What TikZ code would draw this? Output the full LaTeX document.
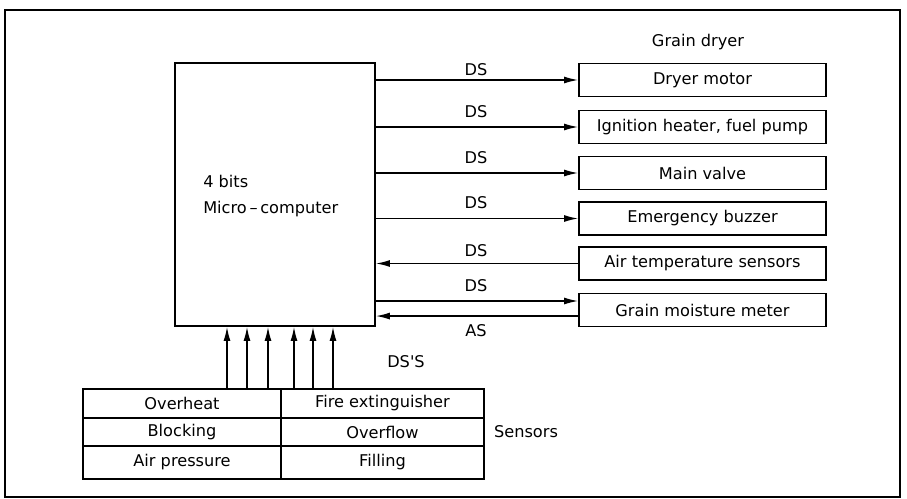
\documentclass[tikz,border=0pt]{standalone}
\usepackage{fontspec}
\setmainfont{DejaVu Sans}
\newfontfamily\plainsans{DejaVu Sans}
\usetikzlibrary{arrows.meta, positioning}
\newcommand{\lbl}{\fontsize{11.5}{18.4}\selectfont}
\tikzset{
  proc/.style={draw, line width=1.2pt, inner sep=0pt},
  unit/.style={draw, line width=1.2pt, inner sep=0pt, minimum width=6.175cm, minimum height=8.25mm, font=\lbl},
  cell/.style={draw, line width=0.9pt, inner sep=0pt, minimum height=7.25mm, font=\lbl},
  sig/.style={-{Latex[length=10pt,width=5pt]}, line width=1pt},
  tag/.style={font=\lbl, inner sep=0pt},
}

\begin{document}
\begin{tikzpicture}[x=0.025cm, y=-0.025cm]
    \useasboundingbox (0,0) rectangle (907,499);
    \draw[line width=1.8pt] (5,10) rectangle (900,497);
    % controller
    \node[proc, minimum width=5cm, minimum height=6.575cm] (mc) at (275,194.5) {};
    \node[tag, anchor=west, align=left] (mcl) at (203,196) {4 bits\\Micro\,--\,computer};
    % grain dryer units
    \node[tag] (gd) at (698,42) {Grain dryer};
    \node[unit] (dm) at (702.5,80)    {Dryer motor};
    \node[unit] (ig) at (702.5,127)   {Ignition heater, fuel pump};
    \node[unit] (mv) at (702.5,173)   {Main valve};
    \node[unit] (eb) at (702.5,218.5) {Emergency buzzer};
    \node[unit] (at) at (702.5,263.5) {Air temperature sensors};
    \node[unit] (gm) at (702.5,310)   {Grain moisture meter};
    \coordinate (gmin)  at ([yshift=6.4pt]gm.west);
    \coordinate (gmout) at ([yshift=-4.3pt]gm.west);
    \foreach \n in {dm,ig,mv,eb}
      \draw[sig] (mc.east |- \n.west) -- (\n.west);
    \draw[sig] (at.west) -- (mc.east |- at.west);
    \draw[sig] (mc.east |- gmin) -- (gmin);
    \draw[sig] (gmout) -- (mc.east |- gmout);
    \foreach \y [count=\i] in {70,112,158,203,251,286}
      \node[tag] (ds\i) at (476,\y) {DS};
    \node[tag] (as) at (476,331) {AS};
    % sensor table
    \node[cell, minimum width=4.95cm] (oh) at (182,403.5) {Overheat};
    \node[cell, minimum width=5.075cm] (fe) at (382.5,403.5) {Fire extinguisher};
    \node[cell, minimum width=4.95cm, minimum height=7mm] (bl) at (182,432) {Blocking};
    \node[cell, minimum width=5.075cm, minimum height=7mm] (of) at (382.5,432) {Overflow};
    \node[cell, minimum width=4.95cm, minimum height=8.25mm] (ap) at (182,462.5) {Air pressure};
    \node[cell, minimum width=5.075cm, minimum height=8.25mm] (fi) at (382.5,462.5) {Filling};
    \node[tag] (sen) at (526,432) {Sensors};
    \node[tag, font=\lbl\plainsans] (dss) at (406,362) {DS'S};
    \foreach \x/\c in {227/oh,247/oh,268/oh,294/fe,313/fe,333/fe}
      \draw[sig] (\c.north -| \x,0) -- (mc.south -| \x,0);
  \end{tikzpicture}
\end{document}
